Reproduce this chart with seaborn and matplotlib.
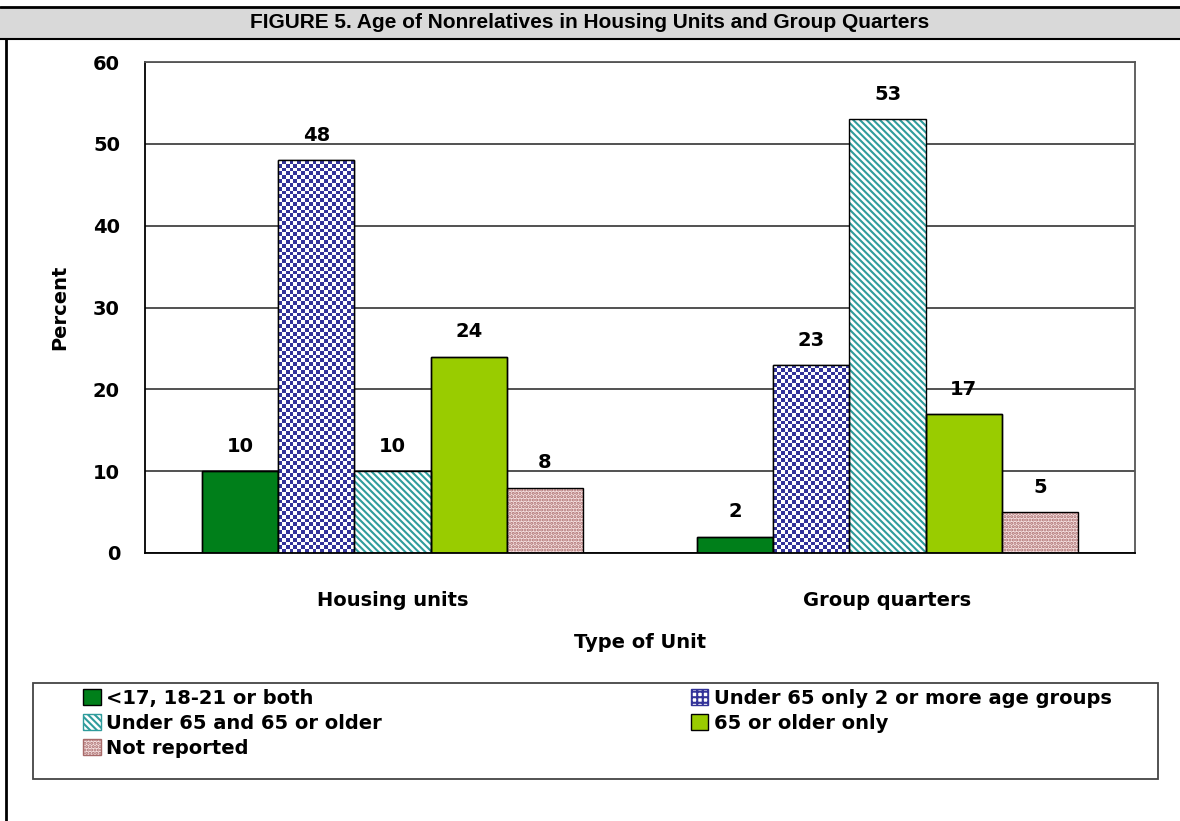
import numpy as np
import pandas as pd
import matplotlib
matplotlib.use('Agg')
import matplotlib.pyplot as plt
import matplotlib.patches as mpatches
from matplotlib.colors import ListedColormap
import seaborn as sns

# values
units = ['Housing units', 'Group quarters']
groups = ['<17, 18-21 or both', 'Under 65 only 2 or more age groups',
          'Under 65 and 65 or older', '65 or older only', 'Not reported']
housing_pct = [10, 48, 10, 24, 8]
quarters_pct = [2, 23, 53, 17, 5]

df = pd.DataFrame({
    'unit': [units[0]] * len(groups) + [units[1]] * len(groups),
    'group': groups * 2,
    'pct': housing_pct + quarters_pct,
})

DKGREEN = '#007f1a'
NAVY = '#333399'
TEAL = '#2f9c9c'
LIME = '#99cc00'
PINK = '#f6e2e2'
PINKDOT = '#a86a6a'

sns.set_style('white')
plt.rcParams['font.family'] = ['DejaVu Sans']
plt.rcParams['font.weight'] = 'bold'
plt.rcParams['hatch.linewidth'] = 1.5
for key in ['text.color', 'axes.labelcolor', 'xtick.color', 'ytick.color']:
    plt.rcParams[key] = 'black'

W, H = 1180, 821
fig = plt.figure(figsize=(W / 100, H / 100), dpi=100)
ax = fig.add_axes([145 / W, (H - 553) / H, (1135 - 145) / W, (553 - 62) / H])

sns.barplot(data=df, x='unit', y='pct', hue='group', order=units, hue_order=groups,
            palette=[DKGREEN, 'white', 'white', LIME, PINK], saturation=1,
            width=0.77, edgecolor='black', linewidth=1, legend=False, ax=ax)

ax.set_xlim(-0.5, 1.5)
ax.set_ylim(0, 60)
ax.set_yticks(range(0, 61, 10))
ax.yaxis.grid(True, color='#333333', linewidth=1.2)
ax.set_axisbelow(True)

# checkerboard fill for the "Under 65 only" bars
checker = ListedColormap(['white', NAVY])
for bar in ax.containers[1]:
    x0, w, h = bar.get_x(), bar.get_width(), bar.get_height()
    p0 = ax.transData.transform((x0, 0))
    p1 = ax.transData.transform((x0 + w, h))
    nx = max(1, int(round((p1[0] - p0[0]) / 3.8)))
    ny = max(1, int(round((p1[1] - p0[1]) / 3.8)))
    cells = np.add.outer(np.arange(ny), np.arange(nx)) % 2
    im = ax.imshow(cells, extent=(x0, x0 + w, 0, h), cmap=checker,
                   interpolation='nearest', aspect='auto', zorder=bar.get_zorder() + 0.1)
    im.set_clip_path(bar)

# diagonal stripes and dotted fill
for bar in ax.containers[2]:
    bar.set_hatch('\\' * 5)
    bar.set_edgecolor(TEAL)
    bar.set_linewidth(0)
for bar in ax.containers[4]:
    bar.set_hatch('.....')
    bar.set_edgecolor(PINKDOT)
    bar.set_linewidth(0)

# black outlines on top of every bar
for cont in ax.containers:
    for bar in cont:
        ax.add_patch(mpatches.Rectangle((bar.get_x(), 0), bar.get_width(), bar.get_height(),
                                        fill=False, edgecolor='black', linewidth=1,
                                        zorder=bar.get_zorder() + 0.5))
    ax.bar_label(cont, padding=11, fontsize=14, fontweight='bold', color='black')

ax.set_xlim(-0.5, 1.5)
ax.set_ylim(0, 60)

for side in ['left', 'bottom']:
    ax.spines[side].set_color('black')
    ax.spines[side].set_linewidth(1.3)
for side in ['top', 'right']:
    ax.spines[side].set_color('#555555')
    ax.spines[side].set_linewidth(1.3)

ax.tick_params(axis='y', length=8, width=1.2, color='black', pad=10, labelsize=14)
ax.tick_params(axis='x', which='major', length=0, pad=27, labelsize=14)
ax.set_xticks([-0.5, 0.5, 1.5], minor=True)
ax.tick_params(axis='x', which='minor', length=8, width=1.2, color='black')
for t in ax.get_xticklabels() + ax.get_yticklabels():
    t.set_fontweight('bold')

ax.set_xlabel('Type of Unit', fontsize=14, fontweight='bold')
ax.set_ylabel('Percent', fontsize=14, fontweight='bold')
ax.xaxis.set_label_coords(0.5, -(633 - 553) / (553 - 62))
ax.yaxis.set_label_coords(-(145 - 69) / (1135 - 145), 0.5)

# legend
handles = [
    mpatches.Patch(facecolor=DKGREEN, edgecolor='black'),
    mpatches.Patch(facecolor='white', edgecolor=NAVY, hatch='+++'),
    mpatches.Patch(facecolor='white', edgecolor=TEAL, hatch='\\' * 5),
    mpatches.Patch(facecolor=LIME, edgecolor='black'),
    mpatches.Patch(facecolor=PINK, edgecolor=PINKDOT, hatch='.....'),
]
order = [0, 2, 4, 1, 3]
leg = fig.legend([handles[i] for i in order], [groups[i] for i in order],
                 ncol=2, loc='upper left', mode='expand',
                 bbox_to_anchor=(83 / W, 0.03, (1112 - 83) / W, (H - 689) / H - 0.03),
                 frameon=False, borderpad=0, borderaxespad=0,
                 handlelength=0.9, handleheight=0.9, handletextpad=0.3,
                 labelspacing=0.3, prop={'size': 14, 'weight': 'bold'})
fig.patches.append(mpatches.Rectangle((33 / W, (H - 779) / H), (1158 - 33) / W, (779 - 683) / H,
                                      fill=False, edgecolor='#444444', linewidth=1.3,
                                      transform=fig.transFigure, figure=fig))

# title bar and page border
fig.patches.append(mpatches.Rectangle((0, (H - 39) / H), 1, 32 / H, facecolor='#d9d9d9',
                                      edgecolor='none', transform=fig.transFigure, figure=fig))
fig.add_artist(plt.Line2D([0, 1], [(H - 7) / H] * 2, color='black', linewidth=2,
                          transform=fig.transFigure))
fig.add_artist(plt.Line2D([0, 1], [(H - 39) / H] * 2, color='black', linewidth=1.5,
                          transform=fig.transFigure))
fig.add_artist(plt.Line2D([6 / W] * 2, [0, (H - 39) / H], color='black', linewidth=2,
                          transform=fig.transFigure))
fig.text(0.5, (H - 23) / H, 'FIGURE 5. Age of Nonrelatives in Housing Units and Group Quarters',
         ha='center', va='center', fontsize=15, fontweight='bold', color='black',
         family=['Liberation Sans Narrow', 'Liberation Sans'])

fig.savefig('out.png', dpi=100, facecolor='white')
